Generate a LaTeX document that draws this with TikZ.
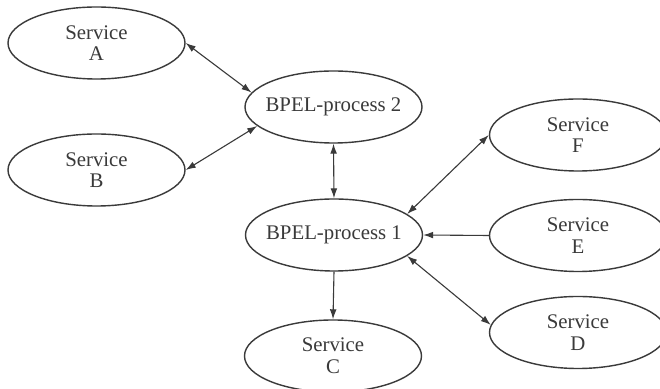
\documentclass[tikz,border=0pt]{standalone}
\usepackage{fontspec}
\setmainfont{Liberation Serif}
\usetikzlibrary{arrows.meta,shapes.geometric}
\definecolor{ink}{HTML}{3A3A3A}
\begin{document}
\begin{tikzpicture}[x=0.5pt,y=-0.5pt,
  svc/.style={ellipse, draw=ink, line width=0.7pt, inner sep=0pt,
    minimum width=88.5pt, minimum height=36pt, align=center, text=ink,
    font=\fontsize{10.4}{10.8}\selectfont},
  link/.style={draw=ink, line width=0.55pt},
  both/.style={link, {Latex[length=5pt,width=3.4pt]}-{Latex[length=5pt,width=3.4pt]}},
  one/.style={link, -{Latex[length=5pt,width=3.4pt]}}]
\useasboundingbox (0,0) rectangle (660,389);
\path[fill=white] (0,0) rectangle (660,389);
\begin{scope}
\clip (0,0) rectangle (660,389);
\node[svc] (a)  at (96.5,43)   {Service\\A};
\node[svc] (b)  at (96.5,170)  {Service\\B};
\node[svc] (p2) at (333.5,107) {\makebox[0pt]{BPEL-process 2}};
\node[svc] (p1) at (334,235)   {\makebox[0pt]{BPEL-process 1}};
\node[svc] (c)  at (333,356)   {Service\\C};
\node[svc] (f)  at (578,135)   {Service\\F};
\node[svc] (e)  at (578,235.5) {Service\\E};
\node[svc] (d)  at (578,332.5) {Service\\D};
\end{scope}
\draw[both] (a.east) -- (p2.170);
\draw[both] (b.east) -- (p2.194);
\draw[both] (p2.south) -- (p1.north);
\draw[one]  (p1.south) -- (c.north);
\draw[both] (f.west) -- (p1.16);
\draw[one]  (e.west) -- (p1.east);
\draw[both] (d.175) -- (p1.344);
\end{tikzpicture}
\end{document}
